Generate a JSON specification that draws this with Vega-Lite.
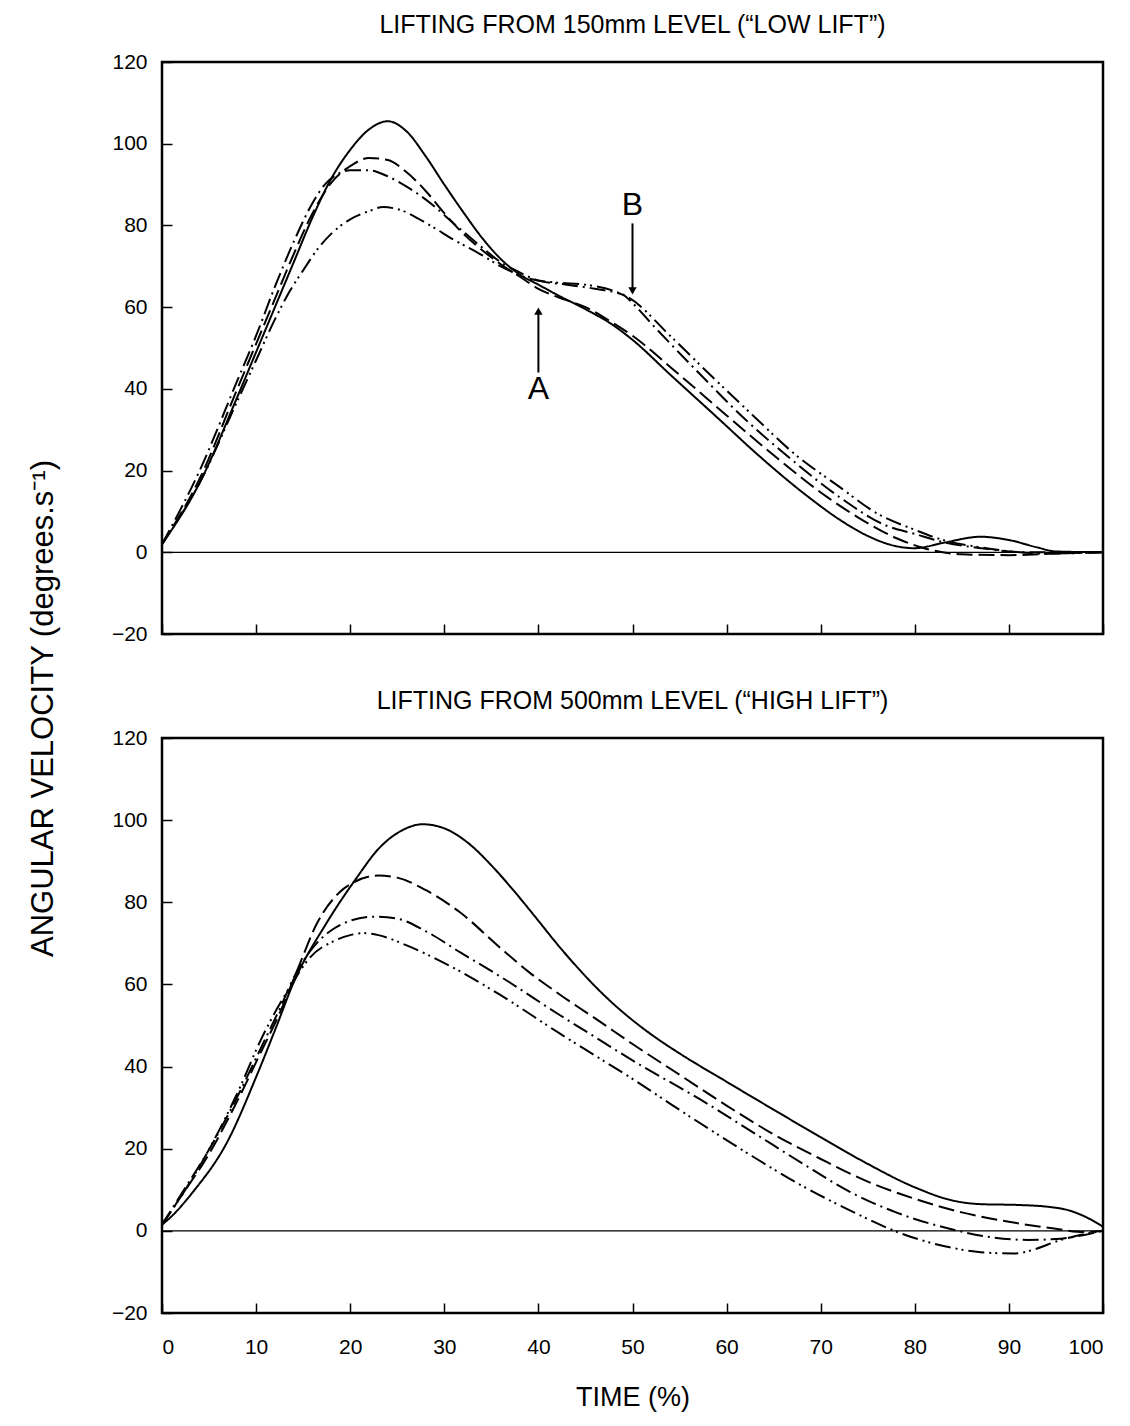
{
  "$schema": "https://vega.github.io/schema/vega-lite/v6.json",
  "background": "white",
  "padding": {"left": 25, "top": 11, "right": 18, "bottom": 15},
  "spacing": 104,
  "bounds": "flush",
  "config": {
    "font": "Liberation Sans",
    "view": {"stroke": "black", "strokeWidth": 2.5},
    "axis": {"grid": false, "domain": false, "tickColor": "black", "tickSize": -10, "tickWidth": 1.5, "labelColor": "black", "labelFontSize": 21, "labelFont": "Liberation Sans", "titleColor": "black", "titleFontWeight": "normal", "titleFontSize": 27, "titleFont": "Liberation Sans"},
    "title": {"fontSize": 25, "fontWeight": "normal", "color": "black", "offset": 13, "font": "Liberation Sans"}
  },
  "datasets": {
    "low": [
      {"s": "solid", "x": 0, "y": 2}, {"s": "solid", "x": 4, "y": 17}, {"s": "solid", "x": 8, "y": 38}, {"s": "solid", "x": 10, "y": 49}, {"s": "solid", "x": 12, "y": 60}, {"s": "solid", "x": 14, "y": 71}, {"s": "solid", "x": 16, "y": 82}, {"s": "solid", "x": 18, "y": 91.5}, {"s": "solid", "x": 20, "y": 98.5}, {"s": "solid", "x": 22, "y": 103.5}, {"s": "solid", "x": 24, "y": 105.5}, {"s": "solid", "x": 26, "y": 103}, {"s": "solid", "x": 28, "y": 97}, {"s": "solid", "x": 30, "y": 90}, {"s": "solid", "x": 32, "y": 83.3}, {"s": "solid", "x": 34, "y": 77}, {"s": "solid", "x": 36, "y": 71.8}, {"s": "solid", "x": 38, "y": 68}, {"s": "solid", "x": 40, "y": 65.5}, {"s": "solid", "x": 42, "y": 63}, {"s": "solid", "x": 45, "y": 59.5}, {"s": "solid", "x": 48, "y": 55.5}, {"s": "solid", "x": 50, "y": 52}, {"s": "solid", "x": 54, "y": 43.5}, {"s": "solid", "x": 59, "y": 33}, {"s": "solid", "x": 63.5, "y": 23.5}, {"s": "solid", "x": 69, "y": 13}, {"s": "solid", "x": 72, "y": 8}, {"s": "solid", "x": 75, "y": 4}, {"s": "solid", "x": 78, "y": 1.5}, {"s": "solid", "x": 80, "y": 1}, {"s": "solid", "x": 83, "y": 2.3}, {"s": "solid", "x": 87, "y": 3.8}, {"s": "solid", "x": 90, "y": 3}, {"s": "solid", "x": 93, "y": 1.2}, {"s": "solid", "x": 95, "y": 0.2}, {"s": "solid", "x": 100, "y": 0},
      {"s": "dash", "x": 0, "y": 2}, {"s": "dash", "x": 4, "y": 18}, {"s": "dash", "x": 8, "y": 40}, {"s": "dash", "x": 10, "y": 51}, {"s": "dash", "x": 12, "y": 62}, {"s": "dash", "x": 14, "y": 73}, {"s": "dash", "x": 16, "y": 83}, {"s": "dash", "x": 18, "y": 90.5}, {"s": "dash", "x": 20, "y": 94.5}, {"s": "dash", "x": 22, "y": 96.5}, {"s": "dash", "x": 24, "y": 96}, {"s": "dash", "x": 26, "y": 93}, {"s": "dash", "x": 28, "y": 88.5}, {"s": "dash", "x": 30, "y": 83}, {"s": "dash", "x": 32, "y": 78}, {"s": "dash", "x": 34, "y": 74}, {"s": "dash", "x": 36, "y": 70.5}, {"s": "dash", "x": 38, "y": 67.5}, {"s": "dash", "x": 40, "y": 64.5}, {"s": "dash", "x": 42, "y": 62.5}, {"s": "dash", "x": 45, "y": 60}, {"s": "dash", "x": 48, "y": 56}, {"s": "dash", "x": 50, "y": 53}, {"s": "dash", "x": 54.7, "y": 44}, {"s": "dash", "x": 60, "y": 33.5}, {"s": "dash", "x": 65.4, "y": 23}, {"s": "dash", "x": 70.7, "y": 13.5}, {"s": "dash", "x": 74, "y": 8.5}, {"s": "dash", "x": 78, "y": 3.5}, {"s": "dash", "x": 81, "y": 1}, {"s": "dash", "x": 85, "y": -0.5}, {"s": "dash", "x": 90, "y": -0.7}, {"s": "dash", "x": 95, "y": -0.3}, {"s": "dash", "x": 100, "y": 0},
      {"s": "dashdot", "x": 0, "y": 2}, {"s": "dashdot", "x": 4, "y": 20}, {"s": "dashdot", "x": 8, "y": 42}, {"s": "dashdot", "x": 10, "y": 53}, {"s": "dashdot", "x": 12, "y": 65}, {"s": "dashdot", "x": 14, "y": 76}, {"s": "dashdot", "x": 16, "y": 85.5}, {"s": "dashdot", "x": 17.3, "y": 90}, {"s": "dashdot", "x": 18.6, "y": 92.5}, {"s": "dashdot", "x": 20, "y": 93.5}, {"s": "dashdot", "x": 22, "y": 93.5}, {"s": "dashdot", "x": 24, "y": 92}, {"s": "dashdot", "x": 26, "y": 89.5}, {"s": "dashdot", "x": 28.5, "y": 85.5}, {"s": "dashdot", "x": 31, "y": 80.5}, {"s": "dashdot", "x": 33.8, "y": 75}, {"s": "dashdot", "x": 36, "y": 71}, {"s": "dashdot", "x": 38, "y": 68.5}, {"s": "dashdot", "x": 40, "y": 66.5}, {"s": "dashdot", "x": 43, "y": 65.5}, {"s": "dashdot", "x": 46, "y": 64.5}, {"s": "dashdot", "x": 49, "y": 63}, {"s": "dashdot", "x": 50, "y": 61}, {"s": "dashdot", "x": 52, "y": 56}, {"s": "dashdot", "x": 57, "y": 44}, {"s": "dashdot", "x": 62, "y": 32.5}, {"s": "dashdot", "x": 67, "y": 22.5}, {"s": "dashdot", "x": 72, "y": 13.5}, {"s": "dashdot", "x": 77, "y": 6.5}, {"s": "dashdot", "x": 80, "y": 4.5}, {"s": "dashdot", "x": 83, "y": 2.5}, {"s": "dashdot", "x": 87, "y": 1}, {"s": "dashdot", "x": 92, "y": 0}, {"s": "dashdot", "x": 100, "y": 0},
      {"s": "dashdotdot", "x": 0, "y": 2}, {"s": "dashdotdot", "x": 4, "y": 17}, {"s": "dashdotdot", "x": 8, "y": 37}, {"s": "dashdotdot", "x": 10, "y": 47}, {"s": "dashdotdot", "x": 12, "y": 57}, {"s": "dashdotdot", "x": 13.6, "y": 64}, {"s": "dashdotdot", "x": 15, "y": 69}, {"s": "dashdotdot", "x": 16.8, "y": 75}, {"s": "dashdotdot", "x": 18, "y": 78}, {"s": "dashdotdot", "x": 20, "y": 81.5}, {"s": "dashdotdot", "x": 22, "y": 83.5}, {"s": "dashdotdot", "x": 23.5, "y": 84.5}, {"s": "dashdotdot", "x": 25, "y": 84}, {"s": "dashdotdot", "x": 28.5, "y": 80}, {"s": "dashdotdot", "x": 31, "y": 76.5}, {"s": "dashdotdot", "x": 33.8, "y": 73}, {"s": "dashdotdot", "x": 36, "y": 70}, {"s": "dashdotdot", "x": 39, "y": 67}, {"s": "dashdotdot", "x": 42, "y": 66}, {"s": "dashdotdot", "x": 45, "y": 65.5}, {"s": "dashdotdot", "x": 48, "y": 64}, {"s": "dashdotdot", "x": 49.5, "y": 62.5}, {"s": "dashdotdot", "x": 54, "y": 53}, {"s": "dashdotdot", "x": 58, "y": 44}, {"s": "dashdotdot", "x": 62.8, "y": 33.5}, {"s": "dashdotdot", "x": 67, "y": 24.5}, {"s": "dashdotdot", "x": 72, "y": 16}, {"s": "dashdotdot", "x": 76, "y": 9.5}, {"s": "dashdotdot", "x": 80, "y": 5.5}, {"s": "dashdotdot", "x": 83, "y": 3}, {"s": "dashdotdot", "x": 87, "y": 1.2}, {"s": "dashdotdot", "x": 94, "y": -0.3}, {"s": "dashdotdot", "x": 100, "y": 0}
    ],
    "high": [
      {"s": "solid", "x": 0, "y": 1.5}, {"s": "solid", "x": 1, "y": 3.5}, {"s": "solid", "x": 3.3, "y": 9.5}, {"s": "solid", "x": 6.9, "y": 21.5}, {"s": "solid", "x": 10.1, "y": 38}, {"s": "solid", "x": 12.2, "y": 50}, {"s": "solid", "x": 13.9, "y": 60}, {"s": "solid", "x": 17.5, "y": 75}, {"s": "solid", "x": 20.7, "y": 86}, {"s": "solid", "x": 23, "y": 93}, {"s": "solid", "x": 25.5, "y": 97.5}, {"s": "solid", "x": 27.7, "y": 99}, {"s": "solid", "x": 30, "y": 98}, {"s": "solid", "x": 32.5, "y": 94.5}, {"s": "solid", "x": 35, "y": 89}, {"s": "solid", "x": 37.5, "y": 82.5}, {"s": "solid", "x": 40, "y": 75.5}, {"s": "solid", "x": 42, "y": 69.8}, {"s": "solid", "x": 44, "y": 64.5}, {"s": "solid", "x": 46, "y": 59.6}, {"s": "solid", "x": 48, "y": 55.2}, {"s": "solid", "x": 50, "y": 51.3}, {"s": "solid", "x": 52.5, "y": 47}, {"s": "solid", "x": 55, "y": 43.2}, {"s": "solid", "x": 60, "y": 36.3}, {"s": "solid", "x": 65, "y": 29.5}, {"s": "solid", "x": 70, "y": 22.8}, {"s": "solid", "x": 75, "y": 16.3}, {"s": "solid", "x": 80, "y": 10.6}, {"s": "solid", "x": 84, "y": 7.4}, {"s": "solid", "x": 87, "y": 6.5}, {"s": "solid", "x": 91, "y": 6.3}, {"s": "solid", "x": 94, "y": 5.9}, {"s": "solid", "x": 96.5, "y": 4.9}, {"s": "solid", "x": 98.5, "y": 3}, {"s": "solid", "x": 100, "y": 1},
      {"s": "dash", "x": 0, "y": 1.5}, {"s": "dash", "x": 2.2, "y": 9}, {"s": "dash", "x": 4.8, "y": 18}, {"s": "dash", "x": 8.3, "y": 33}, {"s": "dash", "x": 10.4, "y": 43}, {"s": "dash", "x": 12.5, "y": 53}, {"s": "dash", "x": 14.3, "y": 63}, {"s": "dash", "x": 16.5, "y": 75}, {"s": "dash", "x": 18.9, "y": 82.5}, {"s": "dash", "x": 20.5, "y": 85}, {"s": "dash", "x": 23, "y": 86.5}, {"s": "dash", "x": 25, "y": 86}, {"s": "dash", "x": 28, "y": 83}, {"s": "dash", "x": 31.7, "y": 77.5}, {"s": "dash", "x": 35.9, "y": 69}, {"s": "dash", "x": 39, "y": 63}, {"s": "dash", "x": 42.3, "y": 57.5}, {"s": "dash", "x": 46.5, "y": 51}, {"s": "dash", "x": 50, "y": 45.5}, {"s": "dash", "x": 55, "y": 38}, {"s": "dash", "x": 60, "y": 30.5}, {"s": "dash", "x": 65, "y": 23.5}, {"s": "dash", "x": 70, "y": 17.5}, {"s": "dash", "x": 75, "y": 12}, {"s": "dash", "x": 80, "y": 7.8}, {"s": "dash", "x": 85, "y": 4.5}, {"s": "dash", "x": 90, "y": 2.2}, {"s": "dash", "x": 95, "y": 0.5}, {"s": "dash", "x": 98, "y": -0.3}, {"s": "dash", "x": 100, "y": 0},
      {"s": "dashdot", "x": 0, "y": 1.5}, {"s": "dashdot", "x": 2.2, "y": 9.5}, {"s": "dashdot", "x": 4.8, "y": 19}, {"s": "dashdot", "x": 8.3, "y": 34}, {"s": "dashdot", "x": 10.4, "y": 44}, {"s": "dashdot", "x": 12.5, "y": 54}, {"s": "dashdot", "x": 14.3, "y": 63}, {"s": "dashdot", "x": 15.7, "y": 68}, {"s": "dashdot", "x": 18.2, "y": 73.5}, {"s": "dashdot", "x": 20, "y": 75.5}, {"s": "dashdot", "x": 22.4, "y": 76.5}, {"s": "dashdot", "x": 25, "y": 76}, {"s": "dashdot", "x": 28, "y": 73}, {"s": "dashdot", "x": 31.7, "y": 67.8}, {"s": "dashdot", "x": 35.9, "y": 62}, {"s": "dashdot", "x": 42.3, "y": 52.5}, {"s": "dashdot", "x": 46.5, "y": 46.5}, {"s": "dashdot", "x": 50, "y": 41.5}, {"s": "dashdot", "x": 57.2, "y": 32}, {"s": "dashdot", "x": 62.8, "y": 24}, {"s": "dashdot", "x": 68, "y": 16.5}, {"s": "dashdot", "x": 73.1, "y": 9.5}, {"s": "dashdot", "x": 78, "y": 4.5}, {"s": "dashdot", "x": 83.7, "y": 0.5}, {"s": "dashdot", "x": 88, "y": -1.5}, {"s": "dashdot", "x": 92, "y": -2.2}, {"s": "dashdot", "x": 95, "y": -2}, {"s": "dashdot", "x": 98, "y": -1}, {"s": "dashdot", "x": 100, "y": 0},
      {"s": "dashdotdot", "x": 0, "y": 1.5}, {"s": "dashdotdot", "x": 2.2, "y": 9}, {"s": "dashdotdot", "x": 4.8, "y": 19}, {"s": "dashdotdot", "x": 8.3, "y": 35}, {"s": "dashdotdot", "x": 10.4, "y": 46}, {"s": "dashdotdot", "x": 12.2, "y": 54}, {"s": "dashdotdot", "x": 13.9, "y": 60.5}, {"s": "dashdotdot", "x": 15.7, "y": 66.5}, {"s": "dashdotdot", "x": 18.2, "y": 70.5}, {"s": "dashdotdot", "x": 20, "y": 72}, {"s": "dashdotdot", "x": 21.4, "y": 72.5}, {"s": "dashdotdot", "x": 23, "y": 72}, {"s": "dashdotdot", "x": 26, "y": 69.5}, {"s": "dashdotdot", "x": 30.6, "y": 64.5}, {"s": "dashdotdot", "x": 35.9, "y": 57.5}, {"s": "dashdotdot", "x": 42.3, "y": 48}, {"s": "dashdotdot", "x": 46.5, "y": 42}, {"s": "dashdotdot", "x": 50, "y": 37}, {"s": "dashdotdot", "x": 54.3, "y": 30.5}, {"s": "dashdotdot", "x": 58, "y": 25}, {"s": "dashdotdot", "x": 62.5, "y": 18.5}, {"s": "dashdotdot", "x": 68, "y": 11}, {"s": "dashdotdot", "x": 73.1, "y": 5}, {"s": "dashdotdot", "x": 78.4, "y": -0.5}, {"s": "dashdotdot", "x": 83.7, "y": -4}, {"s": "dashdotdot", "x": 87, "y": -5.2}, {"s": "dashdotdot", "x": 90.5, "y": -5.5}, {"s": "dashdotdot", "x": 93, "y": -4.3}, {"s": "dashdotdot", "x": 95, "y": -2.6}, {"s": "dashdotdot", "x": 97, "y": -1.3}, {"s": "dashdotdot", "x": 100, "y": 0}
    ],
    "arrows": [
      {"label": "A", "x": 40, "y1": 44, "y2": 59, "head": 59, "shape": "triangle-up", "ty": 40},
      {"label": "B", "x": 50, "y1": 80.5, "y2": 64, "head": 64, "shape": "triangle-down", "ty": 85}
    ]
  },
  "vconcat": [
    {
      "width": 941,
      "height": 572,
      "title": {"text": "LIFTING FROM 150mm LEVEL (“LOW LIFT”)"},
      "layer": [
        {
          "data": {"values": [{}]},
          "mark": {"type": "rule", "color": "black", "strokeWidth": 1.3},
          "encoding": {"y": {"datum": 0, "type": "quantitative", "scale": {"domain": [-20, 120], "nice": false}}}
        },
        {
          "data": {"name": "low"},
          "mark": {"type": "line", "interpolate": "monotone", "color": "black", "strokeWidth": 2},
          "encoding": {
            "x": {"field": "x", "type": "quantitative", "scale": {"domain": [0, 100], "nice": false}, "axis": {"values": [0, 10, 20, 30, 40, 50, 60, 70, 80, 90, 100], "labels": false, "title": null}},
            "y": {"field": "y", "type": "quantitative", "scale": {"domain": [-20, 120], "nice": false}, "axis": {"values": [-20, 0, 20, 40, 60, 80, 100, 120], "labelPadding": 25, "title": "ANGULAR VELOCITY (degrees.s⁻¹)", "titleFontSize": 31, "titleAngle": -90, "titleBaseline": "alphabetic", "titleX": -110, "titleY": 646, "titleAlign": "center"}},
            "strokeDash": {"field": "s", "type": "nominal", "scale": {"domain": ["solid", "dash", "dashdot", "dashdotdot"], "range": [[1, 0], [16, 6], [16, 5, 2, 5], [16, 5, 2, 4, 2, 5]]}, "legend": null}
          }
        },
        {
          "data": {"name": "arrows"},
          "mark": {"type": "rule", "color": "black", "strokeWidth": 2},
          "encoding": {
            "x": {"field": "x", "type": "quantitative"},
            "y": {"field": "y1", "type": "quantitative"},
            "y2": {"field": "y2"}
          }
        },
        {
          "data": {"name": "arrows"},
          "mark": {"type": "point", "filled": true, "color": "black", "size": 70, "opacity": 1},
          "encoding": {
            "x": {"field": "x", "type": "quantitative"},
            "y": {"field": "head", "type": "quantitative"},
            "shape": {"field": "shape", "type": "nominal", "scale": null, "legend": null}
          }
        },
        {
          "data": {"name": "arrows"},
          "mark": {"type": "text", "fontSize": 32, "color": "black", "baseline": "middle", "align": "center", "font": "Liberation Sans"},
          "encoding": {
            "x": {"field": "x", "type": "quantitative"},
            "y": {"field": "ty", "type": "quantitative"},
            "text": {"field": "label"}
          }
        }
      ]
    },
    {
      "width": 941,
      "height": 575,
      "title": {"text": "LIFTING FROM 500mm LEVEL (“HIGH LIFT”)"},
      "layer": [
        {
          "data": {"values": [{}]},
          "mark": {"type": "rule", "color": "black", "strokeWidth": 1.3},
          "encoding": {"y": {"datum": 0, "type": "quantitative", "scale": {"domain": [-20, 120], "nice": false}}}
        },
        {
          "data": {"name": "high"},
          "mark": {"type": "line", "interpolate": "monotone", "color": "black", "strokeWidth": 2},
          "encoding": {
            "x": {"field": "x", "type": "quantitative", "scale": {"domain": [0, 100], "nice": false}, "axis": {"values": [0, 10, 20, 30, 40, 50, 60, 70, 80, 90, 100], "labelPadding": 33, "title": "TIME (%)", "titlePadding": 27}},
            "y": {"field": "y", "type": "quantitative", "scale": {"domain": [-20, 120], "nice": false}, "axis": {"values": [-20, 0, 20, 40, 60, 80, 100, 120], "labelPadding": 25, "title": null}},
            "strokeDash": {"field": "s", "type": "nominal", "scale": {"domain": ["solid", "dash", "dashdot", "dashdotdot"], "range": [[1, 0], [16, 6], [16, 5, 2, 5], [16, 5, 2, 4, 2, 5]]}, "legend": null}
          }
        }
      ]
    }
  ]
}
